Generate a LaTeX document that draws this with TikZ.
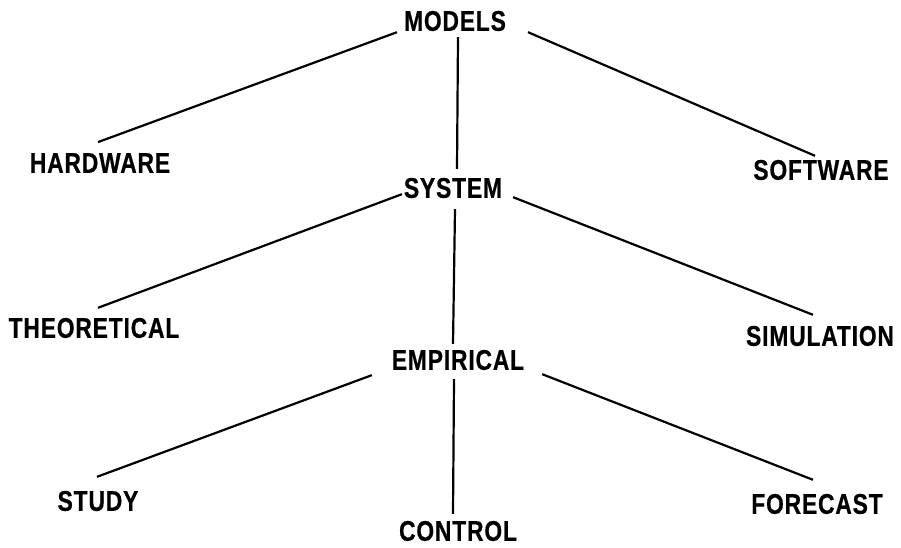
\documentclass[tikz,border=0pt]{standalone}
\usepackage{fontspec}
\setmainfont{Liberation Sans}
\newfontfamily\labelfont{Liberation Sans}[FakeStretch=0.8,LetterSpace=3,FakeBold=0.6]
\begin{document}
\begin{tikzpicture}[x=1pt, y=-1pt, line width=2.2pt,
    word/.style = {inner sep=0pt, font=\labelfont\fontsize{28.5}{30}\selectfont\bfseries}]
    \useasboundingbox (0,0) rectangle (901,548);

    \node[word] at (455,21) (models) {MODELS};
    \node[word] at (100,163) (hardware) {HARDWARE};
    \node[word] at (821,170) (software) {SOFTWARE};

    \node[word] at (453,188) (system) {SYSTEM};
    \node[word] at (94,328) (theoretical) {THEORETICAL};
    \node[word] at (820,336) (simulation) {SIMULATION};

    \node[word] at (458,360) (empirical) {EMPIRICAL};
    \node[word] at (98,501) (study) {STUDY};
    \node[word] at (458,531) (control) {CONTROL};
    \node[word] at (817,504) (forecast) {FORECAST};

    \draw ([shift={(-6,0)}]models.south west) -- ([shift={(-2,-10)}]hardware.north);
    \draw ([shift={(21,0)}]models.south east) -- ([shift={(-6,-3)}]software.north);
    \draw ([shift={(3,5)}]models.south) -- ([shift={(4,-8)}]system.north);

    \draw ([shift={(-1,-5)}]system.south west) -- ([shift={(4,-9)}]theoretical.north);
    \draw ([shift={(10,-2)}]system.south east) -- ([shift={(-7,-10)}]simulation.north);
    \draw ([shift={(2,10)}]system.south) -- ([shift={(-5,-5)}]empirical.north);

    \draw ([shift={(-19,4)}]empirical.south west) -- ([shift={(-1,-13)}]study.north);
    \draw ([shift={(17,3)}]empirical.south east) -- ([shift={(-4,-13)}]forecast.north);
    \draw ([shift={(-4,8)}]empirical.south) -- ([shift={(-5,-6)}]control.north);
\end{tikzpicture}
\end{document}
